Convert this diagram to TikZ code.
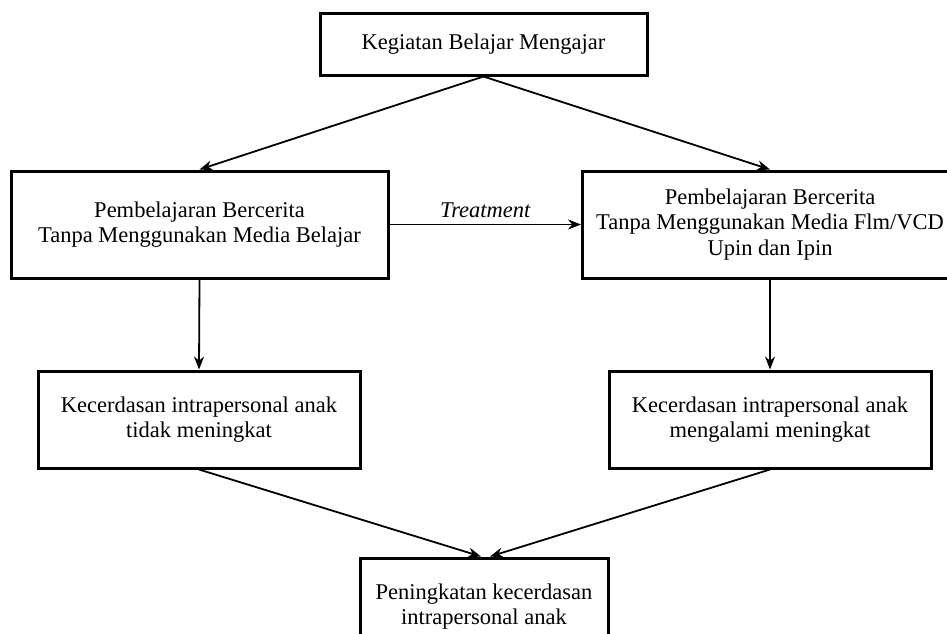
\documentclass[tikz,border=0pt]{standalone}
\usepackage{fontspec}
\setmainfont{Liberation Serif}
\usetikzlibrary{arrows.meta,calc}
\begin{document}
\begin{tikzpicture}[x=1pt,y=-1pt,
  box/.style={draw=black,line width=3pt,inner sep=0pt,align=center,
    font=\fontsize{22.5}{25.5}\selectfont},
  conn/.style={line width=1.8pt,-{Stealth[length=13pt,width=10pt]}}]
\useasboundingbox (0,0) rectangle (947,634);
\clip (0,0) rectangle (947,634);
\node[box,minimum width=327pt,minimum height=61pt] (top) at (483.5,44.5) {Kegiatan Belajar Mengajar};
\node[box,minimum width=377pt,minimum height=107pt] (left) at (199.5,224.5) {Pembelajaran Bercerita\\Tanpa Menggunakan Media Belajar};
\node[box,minimum width=375pt,minimum height=107pt] (right) at (770,224.5) {Pembelajaran Bercerita\\Tanpa Menggunakan Media Flm/VCD\\Upin dan Ipin};
\node[box,minimum width=322pt,minimum height=97pt] (lmid) at (199,419.5) {Kecerdasan intrapersonal anak\\tidak meningkat};
\node[box,minimum width=322pt,minimum height=97pt] (rmid) at (770,419.5) {Kecerdasan intrapersonal anak\\mengalami meningkat};
\node[box,minimum width=248pt,minimum height=97pt] (bot) at (484,606.5) {Peningkatan kecerdasan\\intrapersonal anak};
\draw[conn] (top.south) -- (left.north);
\draw[conn] (top.south) -- (right.north);
\draw[conn] (left.east) -- node[above=3pt,font=\fontsize{22.5}{25.5}\selectfont\itshape] (tlabel) {Treatment} (right.west);
\draw[conn] (left.south) -- (lmid.north);
\draw[conn] (right.south) -- (rmid.north);
\draw[conn] (lmid.south) -- ($(bot.north)+(-3,0)$);
\draw[conn] (rmid.south) -- ($(bot.north)+(6,0)$);
\end{tikzpicture}
\end{document}
